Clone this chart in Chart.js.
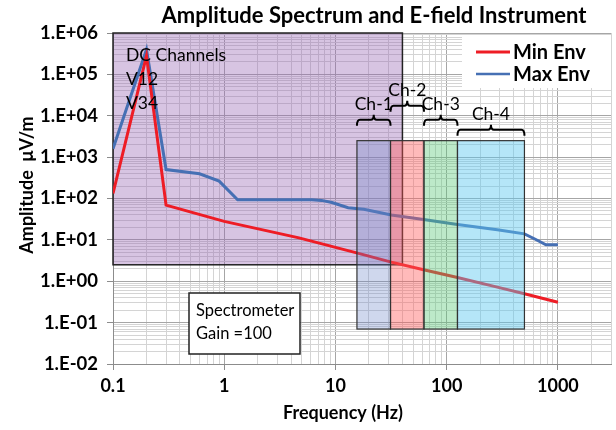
<!DOCTYPE html>
<html>
<head>
<meta charset="utf-8">
<title>Amplitude Spectrum and E-field Instrument</title>
<script src="https://cdn.jsdelivr.net/npm/chart.js@4.4.0/dist/chart.umd.min.js"></script>
<style>
  html, body { margin: 0; padding: 0; background: #fff; }
</style>
</head>
<body>
<canvas id="spectrum" width="616" height="430"></canvas>
<script>
'use strict';

// min envelope (red)
var minFreq = [0.1, 0.2, 0.3, 1, 4.7, 15.5, 31.8, 62, 125, 285, 500, 1000];
var minAmp  = [132, 2.8e5, 69, 28, 11.2, 4.85, 2.9, 1.9, 1.23, 0.72, 0.5, 0.31];

// max envelope (blue)
var maxFreq = [0.1, 0.2, 0.3, 0.6, 0.9, 1.32, 6.1, 7.5, 9.3, 13, 18, 31.8, 62, 125, 285, 500, 620, 780, 1000];
var maxAmp  = [1590, 4e5, 500, 396, 263, 93, 93, 90, 80, 60, 55, 40, 31, 23.6, 17.5, 14, 10.5, 7.6, 7.6];

// DC channels region
var dcFreq = [0.1, 40];
var dcAmp  = [2.5, 1e6];

// spectrometer channels
var chNames = ['Ch-1', 'Ch-2', 'Ch-3', 'Ch-4'];
var chEdges = [15.6, 31.25, 62.5, 125, 500];
var chAmp   = [0.07, 2500];

// axes
var xTicks = [0.1, 1, 10, 100, 1000];
var xTickLabels = ['0.1', '1', '10', '100', '1000'];
var yTicks = [0.01, 0.1, 1, 10, 100, 1000, 1e4, 1e5, 1e6];
var yTickLabels = ['1.E-02', '1.E-01', '1.E+00', '1.E+01', '1.E+02', '1.E+03', '1.E+04', '1.E+05', '1.E+06'];

var FONT = 'Lato, "Open Sans", sans-serif';

function isDecade(v) {
    var l = Math.log10(v);
    return Math.abs(l - Math.round(l)) < 1e-6;
}

function labelFor(v, vals, labels) {
    for (var i = 0; i < vals.length; i++) {
        if (Math.abs(v / vals[i] - 1) < 1e-6) return labels[i];
    }
    return '';
}

// log grid: 1..9 in every decade between min and max
function logTicks(scale) {
    var out = [];
    var e0 = Math.floor(Math.log10(scale.min)), e1 = Math.ceil(Math.log10(scale.max));
    for (var e = e0; e <= e1; e++) {
        for (var m = 1; m < 10; m++) {
            var v = parseFloat((m * Math.pow(10, e)).toPrecision(6));
            if (v >= scale.min * 0.9999 && v <= scale.max * 1.0001) out.push({ value: v });
        }
    }
    scale.ticks = out;
}

function gridColor(c) {
    return c.tick && isDecade(c.tick.value) ? '#a6a6a6' : '#d4d4d4';
}
function tickColor(c) {
    return c.tick && isDecade(c.tick.value) ? '#8c8c8c' : 'rgba(0,0,0,0)';
}

function drawBrace(ctx, x0, x1, yl, drop, rise) {
    var mid = (x0 + x1) / 2;
    ctx.beginPath();
    ctx.moveTo(x0, yl + drop);
    ctx.quadraticCurveTo(x0, yl, x0 + 3, yl);
    ctx.lineTo(mid - 3, yl);
    ctx.quadraticCurveTo(mid, yl, mid, yl - rise);
    ctx.quadraticCurveTo(mid, yl, mid + 3, yl);
    ctx.lineTo(x1 - 3, yl);
    ctx.quadraticCurveTo(x1, yl, x1, yl + drop);
    ctx.stroke();
}

var overlays = {
    id: 'overlays',
    beforeDatasetsDraw: function (chart) {
        var ctx = chart.ctx, xs = chart.scales.x, ys = chart.scales.y;
        var l = xs.getPixelForValue(dcFreq[0]), r = xs.getPixelForValue(dcFreq[1]);
        var t = ys.getPixelForValue(dcAmp[1]), b = ys.getPixelForValue(dcAmp[0]);
        ctx.save();
        ctx.fillStyle = 'rgba(150, 100, 180, 0.38)';
        ctx.fillRect(l, t, r - l, b - t);
        ctx.strokeStyle = '#222';
        ctx.lineWidth = 1.5;
        ctx.strokeRect(l, t, r - l, b - t);
        ctx.restore();
    },
    afterDatasetsDraw: function (chart) {
        var ctx = chart.ctx, xs = chart.scales.x, ys = chart.scales.y, area = chart.chartArea;
        var fills = ['rgba(110,135,200,0.33)', 'rgba(255,90,90,0.42)', 'rgba(90,200,120,0.40)', 'rgba(90,200,240,0.45)'];
        var braceUp = [21, 35, 21, 11];
        var top = ys.getPixelForValue(chAmp[1]), bot = ys.getPixelForValue(chAmp[0]);
        ctx.save();

        // channel boxes + braces
        for (var i = 0; i < chNames.length; i++) {
            var l = xs.getPixelForValue(chEdges[i]), r = xs.getPixelForValue(chEdges[i + 1]);
            ctx.fillStyle = fills[i];
            ctx.fillRect(l, top, r - l, bot - top);
            ctx.strokeStyle = '#333';
            ctx.lineWidth = 1.2;
            ctx.strokeRect(l, top, r - l, bot - top);

            var yl = top - braceUp[i];
            ctx.strokeStyle = '#000';
            ctx.lineWidth = 2;
            drawBrace(ctx, l, r, yl, 6, 5);
            ctx.fillStyle = '#000';
            ctx.font = '17.5px ' + FONT;
            ctx.textAlign = 'center';
            ctx.textBaseline = 'middle';
            ctx.fillText(chNames[i], (l + r) / 2, yl - 15);
        }

        // DC channels text
        ctx.textAlign = 'left';
        ctx.textBaseline = 'middle';
        ctx.font = '17.5px ' + FONT;
        ctx.fillText('DC Channels', area.left + 13, 55);
        ctx.fillText('V12', area.left + 13, 79);
        ctx.fillText('V34', area.left + 13, 103);

        // spectrometer note
        ctx.fillStyle = '#fff';
        ctx.fillRect(189, 293, 111, 61);
        ctx.strokeStyle = '#222';
        ctx.lineWidth = 1.5;
        ctx.strokeRect(189, 293, 111, 61);
        ctx.fillStyle = '#000';
        ctx.font = '16.5px ' + FONT;
        ctx.fillText('Spectrometer', 196, 311);
        ctx.fillText('Gain =100', 196, 334);

        // legend
        ctx.fillStyle = '#fff';
        ctx.fillRect(462, 35, area.right - 462, 53);
        var ds = chart.data.datasets;
        for (var k = 0; k < ds.length; k++) {
            var yy = 52 + k * 22;
            ctx.strokeStyle = ds[k].borderColor;
            ctx.lineWidth = k === 0 ? 3 : 2.5;
            ctx.beginPath();
            ctx.moveTo(476, yy);
            ctx.lineTo(510, yy);
            ctx.stroke();
            ctx.fillStyle = '#000';
            ctx.font = 'bold 20px ' + FONT;
            ctx.fillText(ds[k].label, 513, yy + 1);
        }

        // titles
        ctx.textAlign = 'center';
        ctx.font = 'bold 22px ' + FONT;
        ctx.fillText('Amplitude Spectrum and E-field Instrument', 374, 16);
        ctx.font = 'bold 18px ' + FONT;
        ctx.fillText('Frequency (Hz)', 343, 413);
        ctx.translate(27, 185);
        ctx.rotate(-Math.PI / 2);
        ctx.font = 'bold 18px ' + FONT;
        ctx.fillText('Amplitude  \u03bcV/m', 0, 0);
        ctx.restore();
    }
};

var ctx = document.getElementById('spectrum').getContext('2d');
var spectrumChart = new Chart(ctx, {
    type: 'line',
    data: {
        datasets: [
            {
                label: 'Min Env',
                data: minFreq.map(function (f, i) { return { x: f, y: minAmp[i] }; }),
                borderColor: '#ee1c25',
                borderWidth: 3,
                pointRadius: 0,
                tension: 0
            },
            {
                label: 'Max Env',
                data: maxFreq.map(function (f, i) { return { x: f, y: maxAmp[i] }; }),
                borderColor: '#4670b4',
                borderWidth: 3,
                pointRadius: 0,
                tension: 0
            }
        ]
    },
    options: {
        responsive: false,
        animation: false,
        devicePixelRatio: 1,
        layout: { padding: { top: 33, right: 2, left: 0, bottom: 0 } },
        plugins: {
            legend: { display: false },
            title: { display: false },
            tooltip: { enabled: false }
        },
        scales: {
            x: {
                type: 'logarithmic',
                min: 0.1,
                max: 3000,
                afterBuildTicks: logTicks,
                afterFit: function (s) { s.height = 66; },
                grid: { color: gridColor, tickColor: tickColor, tickLength: 6 },
                border: { display: true, color: '#8c8c8c' },
                ticks: {
                    autoSkip: false,
                    maxRotation: 0,
                    padding: 5,
                    color: '#000',
                    font: { family: FONT, size: 18, weight: 'bold' },
                    callback: function (v) { return labelFor(v, xTicks, xTickLabels); }
                }
            },
            y: {
                type: 'logarithmic',
                min: 0.01,
                max: 1e6,
                afterBuildTicks: logTicks,
                afterFit: function (s) { s.width = 113; },
                grid: { color: gridColor, tickColor: tickColor, tickLength: 6 },
                border: { display: true, color: '#8c8c8c' },
                ticks: {
                    autoSkip: false,
                    padding: 9,
                    color: '#000',
                    font: { family: FONT, size: 18.5, weight: 'bold' },
                    callback: function (v) { return labelFor(v, yTicks, yTickLabels); }
                }
            }
        }
    },
    plugins: [overlays]
});
</script>
</body>
</html>
